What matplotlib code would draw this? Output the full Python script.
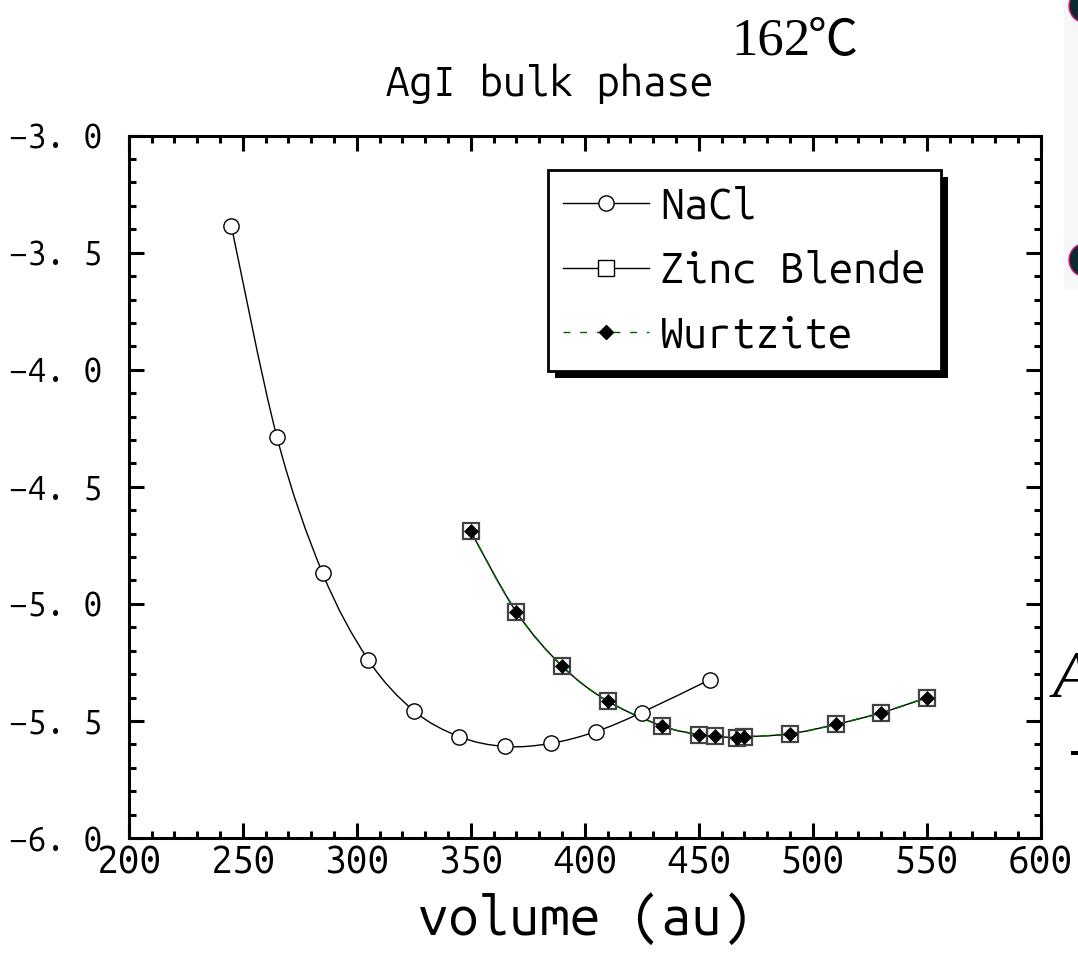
import matplotlib
matplotlib.use("Agg")
import matplotlib.pyplot as plt
from matplotlib.path import Path
from matplotlib.patches import PathPatch, Rectangle, Circle
from matplotlib.transforms import IdentityTransform
from matplotlib.lines import Line2D
import matplotlib.ticker as ticker

# E(V) curves for the AgI bulk phases
nacl_vol = [245, 265, 285, 305, 325, 345, 365, 385, 405, 425, 455]
nacl_energy = [-3.385, -4.287, -4.868, -5.238, -5.456, -5.567, -5.609,
               -5.596, -5.545, -5.464, -5.323]

zb_vol = [350, 370, 390, 410, 434, 450, 457, 467, 470, 490, 510, 530, 550]
zb_energy = [-4.690, -5.034, -5.265, -5.415, -5.522, -5.558, -5.565,
             -5.572, -5.568, -5.555, -5.515, -5.465, -5.401]

wz_vol = [350, 370, 390, 410, 434, 450, 457, 467, 470, 490, 510, 530, 550]
wz_energy = [-4.690, -5.034, -5.265, -5.415, -5.522, -5.558, -5.565,
             -5.572, -5.568, -5.555, -5.515, -5.465, -5.401]

labels = ["NaCl", "Zinc Blende", "Wurtzite"]

# narrow monospace face, falls back to DejaVu if missing
mono = ["Ubuntu Mono", "DejaVu Sans Mono"]


def smooth_path(xs, ys):
    # Catmull-Rom style cubic Bezier through the points
    verts = [(xs[0], ys[0])]
    codes = [Path.MOVETO]
    n = len(xs)
    for i in range(n - 1):
        x0, y0 = (xs[i - 1], ys[i - 1]) if i > 0 else (xs[i], ys[i])
        x1, y1 = xs[i], ys[i]
        x2, y2 = xs[i + 1], ys[i + 1]
        x3, y3 = (xs[i + 2], ys[i + 2]) if i + 2 < n else (x2, y2)
        c1 = (x1 + (x2 - x0) / 6, y1 + (y2 - y0) / 6)
        c2 = (x2 - (x3 - x1) / 6, y2 - (y3 - y1) / 6)
        verts += [c1, c2, (x2, y2)]
        codes += [Path.CURVE4] * 3
    return Path(verts, codes)


fig = plt.figure(figsize=(10.78, 9.56), dpi=100)
ax = fig.add_axes([0.1194, 0.1234, 0.846, 0.7347])

# lines
ax.add_patch(PathPatch(smooth_path(nacl_vol, nacl_energy), fill=False,
                       edgecolor="black", lw=1.0, zorder=2))
ax.add_patch(PathPatch(smooth_path(zb_vol, zb_energy), fill=False,
                       edgecolor="black", lw=1.0, zorder=2))
ax.add_patch(PathPatch(smooth_path(wz_vol, wz_energy), fill=False,
                       edgecolor="#006400", lw=1.1, linestyle=(0, (6, 4)),
                       zorder=2.1))

# markers
ax.plot(nacl_vol, nacl_energy, ls="none", marker="o", ms=11, mfc="white",
        mec="black", mew=1.0, zorder=3)
ax.plot(zb_vol, zb_energy, ls="none", marker="s", ms=11, mfc="none",
        mec="#444444", mew=1.6, zorder=3)
ax.plot(wz_vol, wz_energy, ls="none", marker="D", ms=7, mfc="black",
        mec="black", mew=0.5, zorder=4)

ax.set_xlim(200, 600)
ax.set_ylim(-6.0, -3.0)
ax.xaxis.set_major_locator(ticker.MultipleLocator(50))
ax.xaxis.set_minor_locator(ticker.MultipleLocator(10))
ax.yaxis.set_major_locator(ticker.MultipleLocator(0.5))
ax.yaxis.set_minor_locator(ticker.MultipleLocator(0.1))
ax.yaxis.set_major_formatter(ticker.FuncFormatter(
    lambda v, p: ("%.1f" % v).replace("-", "\u2212").replace(".", ". ")))

ax.tick_params(which="both", direction="in", top=True, right=True, width=2.2)
ax.tick_params(which="major", length=10.5)
ax.tick_params(which="minor", length=5)
ax.tick_params(axis="x", labelsize=28, pad=4)
ax.tick_params(axis="y", labelsize=24, pad=19)
for lab in ax.get_xticklabels() + ax.get_yticklabels():
    lab.set_fontfamily(mono)
for sp in ax.spines.values():
    sp.set_linewidth(2.2)

ax.set_xlabel("volume (au)", fontsize=39, fontfamily=mono, labelpad=8)

# legend with a solid drop shadow
handles = [
    Line2D([], [], color="black", lw=1.0, marker="o", ms=11, mfc="white",
           mec="black", mew=1.0),
    Line2D([], [], color="black", lw=1.0, marker="s", ms=11, mfc="white",
           mec="black", mew=1.0),
    Line2D([], [], color="#006400", lw=1.0, ls=(0, (5, 7)), marker="D",
           ms=7, mfc="black", mec="black"),
]
leg = ax.legend(handles, labels, loc="upper left",
                bbox_to_anchor=(0.46, 0.951), borderaxespad=0,
                prop={"family": mono, "size": 31}, handlelength=2.0,
                handletextpad=0.25, labelspacing=0.55, borderpad=0.35,
                fancybox=False, framealpha=1, edgecolor="black")
leg.get_frame().set_linewidth(2.0)
leg.set_zorder(6)

fig.canvas.draw()
bb = leg.get_window_extent()
ax.add_patch(Rectangle((bb.x0 + 7, bb.y0 - 7), bb.width, bb.height,
                       transform=IdentityTransform(), facecolor="black",
                       edgecolor="none", zorder=5.9, clip_on=False))

# headings
fig.text(0.51, 0.913, "AgI bulk phase", ha="center", va="center",
         fontsize=30, fontfamily=mono, fontweight="bold")
fig.text(810 / 1078, 0.9425, "162", ha="right", va="baseline",
         fontsize=38, fontfamily="Liberation Serif")
fig.text(808 / 1078, 0.9425, "\u2103", ha="left", va="baseline",
         fontsize=36, fontfamily=["Noto Sans CJK JP", "DejaVu Sans"])

# neighbouring slide edge on the right
fig.patches.append(Rectangle((1064, 666), 20, 300, transform=IdentityTransform(),
                             facecolor="#f7f7f7", edgecolor="none"))
fig.patches.append(Circle((1086, 950), 17, transform=IdentityTransform(),
                          facecolor="#0b2a32", edgecolor="#e0207a", lw=1))
fig.patches.append(Circle((1086, 696), 17, transform=IdentityTransform(),
                          facecolor="#0b2a32", edgecolor="#e0207a", lw=1))
fig.text(1053 / 1078, (956 - 697) / 956, "A", fontsize=48, style="italic",
         fontfamily="Liberation Serif", ha="left", va="baseline")
fig.add_artist(Rectangle((1071, 956 - 755), 8, 4, transform=IdentityTransform(),
                         facecolor="black", edgecolor="none"))

fig.savefig("out.png", dpi=100)
